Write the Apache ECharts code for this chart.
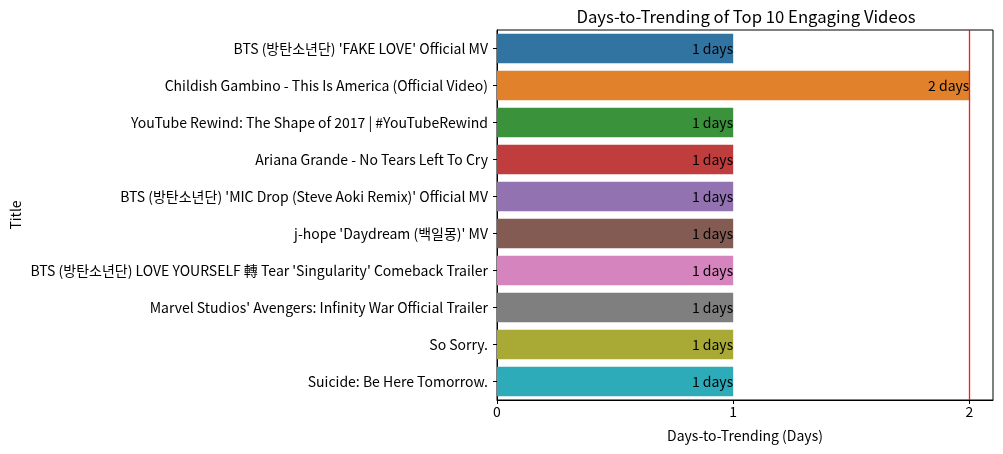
<!DOCTYPE html>
<html>
<head>
<meta charset="utf-8">
<script src="https://cdn.jsdelivr.net/npm/echarts@6/dist/echarts.min.js"></script>
<style>
  html, body { margin: 0; padding: 0; background: #fff; }
  #main { width: 1003px; height: 454px; }
</style>
</head>
<body>
<div id="main"></div>
<script>
// data
var titles = [
  "BTS (방탄소년단) 'FAKE LOVE' Official MV",
  "Childish Gambino - This Is America (Official Video)",
  "YouTube Rewind: The Shape of 2017 | #YouTubeRewind",
  "Ariana Grande - No Tears Left To Cry",
  "BTS (방탄소년단) 'MIC Drop (Steve Aoki Remix)' Official MV",
  "j-hope 'Daydream (백일몽)' MV",
  "BTS (방탄소년단) LOVE YOURSELF 轉 Tear 'Singularity' Comeback Trailer",
  "Marvel Studios' Avengers: Infinity War Official Trailer",
  "So Sorry.",
  "Suicide: Be Here Tomorrow."
];
var days = [1, 2, 1, 1, 1, 1, 1, 1, 1, 1];
var xTicks = [0, 1, 2];
var refLine = 2;

var palette = ['#3274a1', '#e1812c', '#3a923a', '#c03d3e', '#9372b2',
               '#845b53', '#d684bd', '#7f7f7f', '#a9aa35', '#2eabb8'];

var font = '"Noto Sans CJK KR", "Noto Sans", sans-serif';

var myChart = echarts.init(document.getElementById("main"));
myChart.setOption({
  animation: false,
  textStyle: { fontFamily: font },
  title: {
    text: "Days-to-Trending of Top 10 Engaging Videos",
    left: 741,
    top: 3,
    textAlign: "center",
    textStyle: { fontFamily: font, fontSize: 16.7, fontWeight: "normal", color: "#000" }
  },
  grid: {
    left: 497, right: 10, top: 30, bottom: 54,
    show: true, borderColor: "#000", borderWidth: 1
  },
  xAxis: {
    type: "value",
    min: 0,
    max: 2.1,
    name: "Days-to-Trending (Days)",
    nameLocation: "middle",
    nameGap: 29,
    nameTextStyle: { fontFamily: font, fontSize: 14, color: "#000" },
    splitLine: { show: false },
    axisLine: { show: true, lineStyle: { color: "#000", width: 1 } },
    axisTick: { show: true, length: 4, lineStyle: { color: "#000" }, customValues: xTicks },
    axisLabel: { color: "#000", fontSize: 14, margin: 5, customValues: xTicks }
  },
  yAxis: {
    type: "category",
    inverse: true,
    data: titles,
    name: "Title",
    nameLocation: "middle",
    nameGap: 474,
    nameTextStyle: { fontFamily: font, fontSize: 14, color: "#000" },
    axisLine: { show: true, lineStyle: { color: "#000", width: 1 } },
    axisTick: { show: true, alignWithLabel: true, length: 4, lineStyle: { color: "#000" } },
    axisLabel: { color: "#000", fontSize: 14, margin: 9 }
  },
  series: [
    {
      type: "bar",
      barCategoryGap: "20%",
      data: days.map(function (v, i) {
        return { value: v, itemStyle: { color: palette[i] } };
      }),
      label: {
        show: true,
        position: "insideRight",
        distance: 0,
        color: "#000",
        fontSize: 14,
        formatter: function (p) { return p.value + " days"; }
      },
      markLine: {
        silent: true,
        symbol: ["none", "none"],
        precision: 2,
        label: { show: false },
        lineStyle: { color: "#ff0000", width: 1.3, type: "solid", opacity: 0.9 },
        emphasis: { disabled: true },
        data: [{ xAxis: refLine }]
      }
    }
  ]
});
</script>
</body>
</html>
